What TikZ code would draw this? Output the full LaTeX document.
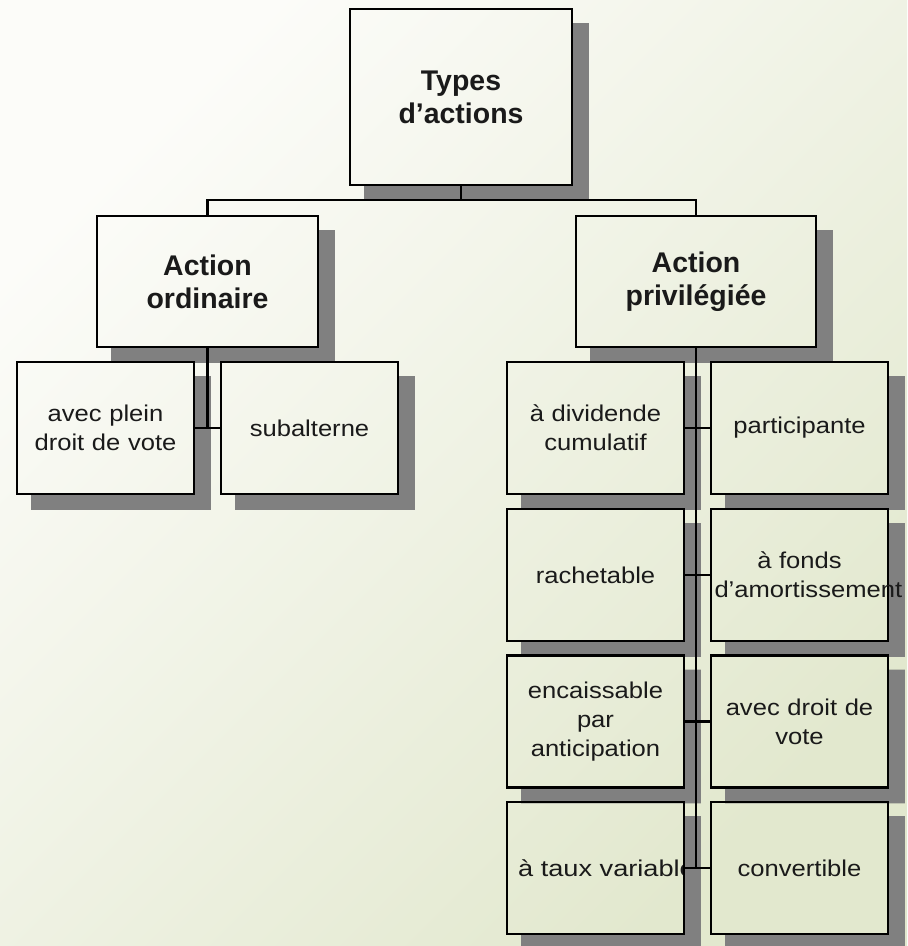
\documentclass[tikz,border=0pt]{standalone}
\usepackage{fontspec}
\setmainfont{Liberation Sans}
\newfontfamily\bodyf[FakeStretch=1.12]{Liberation Sans}
\newfontfamily\widef[FakeStretch=1.19]{Liberation Sans}
\usetikzlibrary{calc}
\definecolor{bgA}{HTML}{FCFCF9}
\definecolor{bgB}{HTML}{E2E8CE}
\definecolor{shad}{HTML}{808080}
\definecolor{ink}{HTML}{1A1A1A}
\pgfdeclarelayer{bg}
\pgfdeclarelayer{shadow}
\pgfdeclarelayer{conn}
\pgfsetlayers{bg,shadow,conn,main}
\newcommand\boxshadow[1]{%
  \fill[shad] ([yshift=-0.28cm]#1.north east) -- ([xshift=0.34cm,yshift=-0.28cm]#1.north east)
    -- ([xshift=0.34cm,yshift=-0.32cm]#1.south east) -- ([xshift=0.28cm,yshift=-0.32cm]#1.south west)
    -- ([xshift=0.28cm]#1.south west) -- (#1.south east) -- cycle;}
\begin{document}
\begin{tikzpicture}[x=0.02cm,y=-0.02cm,
  box/.style={draw=black, line width=1.3pt, inner sep=0pt, outer sep=0pt, align=center, text=ink},
  titlebox/.style={box, font=\fontsize{16.2}{18.7}\selectfont\bfseries},
  leafbox/.style={box, minimum width=3.54cm, minimum height=2.64cm, text width=3.4cm,
    font=\bodyf\fontsize{13}{16.4}\selectfont},
  conn/.style={line width=1.3pt, draw=black},
]
\useasboundingbox (0,0) rectangle (907,946);
\begin{pgfonlayer}{bg}
  \shade[top color=bgA, bottom color=bgB, shading angle=45] (0,0) rectangle (907,946);
\end{pgfonlayer}

% top
\node[titlebox, minimum width=4.44cm, minimum height=3.52cm] (T) at (461,97) {Types\\d’actions};
% level 2
\node[titlebox, minimum width=4.42cm, minimum height=2.62cm] (AO) at (207.5,281.5) {Action\\ordinaire};
\node[titlebox, minimum width=4.8cm, minimum height=2.62cm] (AP) at (696,281.5) {Action\\privilégiée};
% left leaves
\node[leafbox] (L1) at (105.5,428) {avec plein\\droit de vote};
\node[leafbox] (L2) at (309.5,428) {subalterne};
% right leaves
\node[leafbox] (R1a) at (595.5,428) {à dividende\\cumulatif};
\node[leafbox] (R1b) at (799.5,428) {participante};
\node[leafbox] (R2a) at (595.5,575) {rachetable};
\node[leafbox] (R2b) at (799.5,575) {à fonds\\d’amortissement};
\node[leafbox] (R3a) at (595.5,721.5) {encaissable\\par\\anticipation};
\node[leafbox] (R3b) at (799.5,721.5) {avec droit de\\vote};
\node[leafbox, path picture={\node[text width={}, align=left, draw=none, minimum width=0pt, minimum height=0pt,
    font=\widef\fontsize{13}{16.4}\selectfont, text=ink, inner sep=0pt]
    at ([xshift=0.22cm]path picture bounding box.center) {\mbox{à taux variable}};}] (R4a) at (595.5,868) {};
\node[leafbox] (R4b) at (799.5,868) {convertible};

\coordinate (bus) at (461,200);

\begin{pgfonlayer}{shadow}
  \boxshadow{T}
  \boxshadow{AO}
  \boxshadow{AP}
  \boxshadow{L1}
  \boxshadow{L2}
  \boxshadow{R1a}
  \boxshadow{R1b}
  \boxshadow{R2a}
  \boxshadow{R2b}
  \boxshadow{R3a}
  \boxshadow{R3b}
  \boxshadow{R4a}
  \boxshadow{R4b}
\end{pgfonlayer}

\begin{pgfonlayer}{conn}
  \draw[conn] (T.south) -- (T.south |- bus);
  \draw[conn] (AO.north) -- (AO.north |- bus) -- (AP.north |- bus) -- (AP.north);
  \draw[conn] (AO.south) -- (AO.south |- L1.east);
  \draw[conn] (L1.east) -- (L2.west);
  \draw[conn] (AP.south) -- (AP.south |- R4a.east);
  \draw[conn] (R1a.east) -- (R1b.west);
  \draw[conn] (R2a.east) -- (R2b.west);
  \draw[conn] (R3a.east) -- (R3b.west);
  \draw[conn] (R4a.east) -- (R4b.west);
\end{pgfonlayer}
\end{tikzpicture}
\end{document}
